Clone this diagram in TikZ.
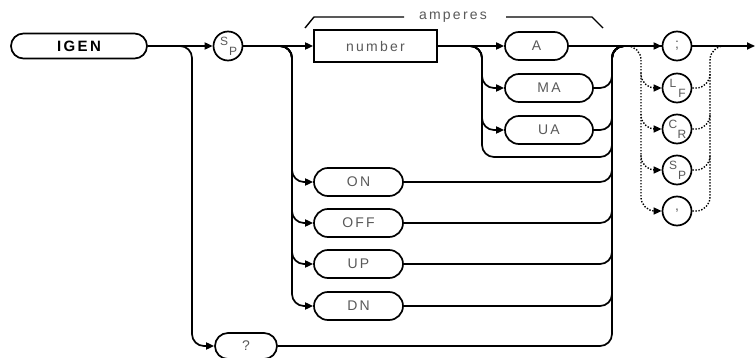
\documentclass[tikz,border=0pt]{standalone}
\usepackage{fontspec}
\setmainfont{Liberation Sans}
\newfontfamily\hpfont[LetterSpace=16]{Liberation Sans}
\usetikzlibrary{arrows.meta,shapes.misc,calc}
\begin{document}
\begin{tikzpicture}[x=1pt,y=-1pt,line width=1.7pt,
  every node/.style={font=\hpfont\fontsize{14}{14}\selectfont,text=black!65},
  term/.style={draw=black,rounded rectangle,minimum height=28pt,inner sep=0pt},
  rbox/.style={draw=black,rectangle,minimum height=32pt,inner sep=0pt},
  circ/.style={draw=black,circle,minimum size=29pt,inner sep=0pt},
  sub/.style={font=\hpfont\fontsize{12}{12}\selectfont,inner sep=0pt},
  arr/.style={-{Triangle[length=8pt,width=7pt]}},
  bus/.style={rounded corners=12pt},
  dot/.style={dash pattern=on 1.4pt off 1.6pt,rounded corners=14pt,line width=1.4pt}]
\useasboundingbox (0,0) rectangle (755,358);
% nodes
\node[term,minimum width=136pt,minimum height=25pt,text=black,font=\bfseries\hpfont\fontsize{15}{15}\selectfont] (igen) at (79,46) {IGEN};
\node[circ] (sp1) at (228,46) {};
\node[sub] at ($(sp1)+(-4,-5)$) {S};
\node[sub] at ($(sp1)+(5,5)$) {P};
\node[rbox,minimum width=123pt] (num) at (375.5,46) {number};
\node[term,minimum width=63pt] (a) at (536.5,46) {A};
\node[term,minimum width=88pt] (ma) at (549,88) {MA};
\node[term,minimum width=88pt] (ua) at (549,130) {UA};
\node[term,minimum width=89pt] (on) at (358.5,182) {ON};
\node[term,minimum width=89pt] (off) at (358.5,223) {OFF};
\node[term,minimum width=89pt] (up) at (358.5,264) {UP};
\node[term,minimum width=89pt] (dn) at (358.5,306) {DN};
\node[term,minimum width=62pt,minimum height=26pt] (q) at (246,346) {?};
\node[circ] (semi) at (677,46) {;};
\node[circ] (lf) at (677,88) {};
\node[sub] at ($(lf)+(-4,-5)$) {L};
\node[sub] at ($(lf)+(5,5)$) {F};
\node[circ] (cr) at (677,129) {};
\node[sub] at ($(cr)+(-4,-5)$) {C};
\node[sub] at ($(cr)+(5,5)$) {R};
\node[circ] (sp2) at (677,170) {};
\node[sub] at ($(sp2)+(-4,-5)$) {S};
\node[sub] at ($(sp2)+(5,5)$) {P};
\node[circ] (comma) at (677,211) {,};
\node[inner sep=0pt] (amp) at (453,17) {amperes};
% bus coordinates
\coordinate (b1) at (192,0);
\coordinate (b2) at (292,0);
\coordinate (b3) at (482,0);
\coordinate (b4) at (612,0);
\coordinate (d1) at (641,0);
\coordinate (d2) at (710,0);
\coordinate (loop) at (0,157);
\coordinate (j1) at (616,46);
\coordinate (j2) at (726,46);
\coordinate (fin) at (755,46);
% bracket
\coordinate (bl1) at (305,28);
\coordinate (bl2) at (314,17);
\coordinate (bl3) at (404,17);
\coordinate (br1) at (506,17);
\coordinate (br2) at (592,17);
\coordinate (br3) at (603,28);
\draw[line width=1.4pt] (bl1) -- (bl2) -- (bl3);
\draw[line width=1.4pt] (br1) -- (br2) -- (br3);
% main line
\draw[arr] (igen) -- (sp1);
\draw[arr] (sp1) -- (num);
\draw[arr] (num) -- (a);
\draw[arr] (a) -- (semi);
\draw[arr] (semi) -- (fin);
% query branch
\draw[arr,bus] (igen.east) -| (b1 |- q.west) -- (q.west);
% SP branches
\foreach \n in {on,off,up,dn}{
  \draw[arr,bus] (sp1.east) -| (b2 |- \n.west) -- (\n.west);
}
% unit branches
\draw[arr,bus] (num.east) -| (b3 |- ma.west) -- (ma.west);
\draw[arr,bus] (num.east) -| (b3 |- ua.west) -- (ua.west);
\draw[bus] (num.east) -| (b3 |- loop) -| (b4 |- semi.west) -- (semi.west);
% joins to right bus
\foreach \n in {ma,ua,on,off,up,dn,q}{
  \draw[bus] (\n.east) -| (b4 |- semi.west) -- (semi.west);
}
% dotted terminators: one full path each side, short branches for the others
\draw[dot,arr] (j1) -| (d1 |- comma.west) -- (comma.west);
\draw[dot] (comma.east) -| (d2 |- j2) -- (j2);
\foreach \n in {lf,cr,sp2}{
  \draw[dot,arr] ($(d1 |- \n.west)+(0,-15)$) |- (\n.west);
  \draw[dot] (\n.east) -| ($(d2 |- \n.east)+(0,-15)$);
}
\end{tikzpicture}
\end{document}
